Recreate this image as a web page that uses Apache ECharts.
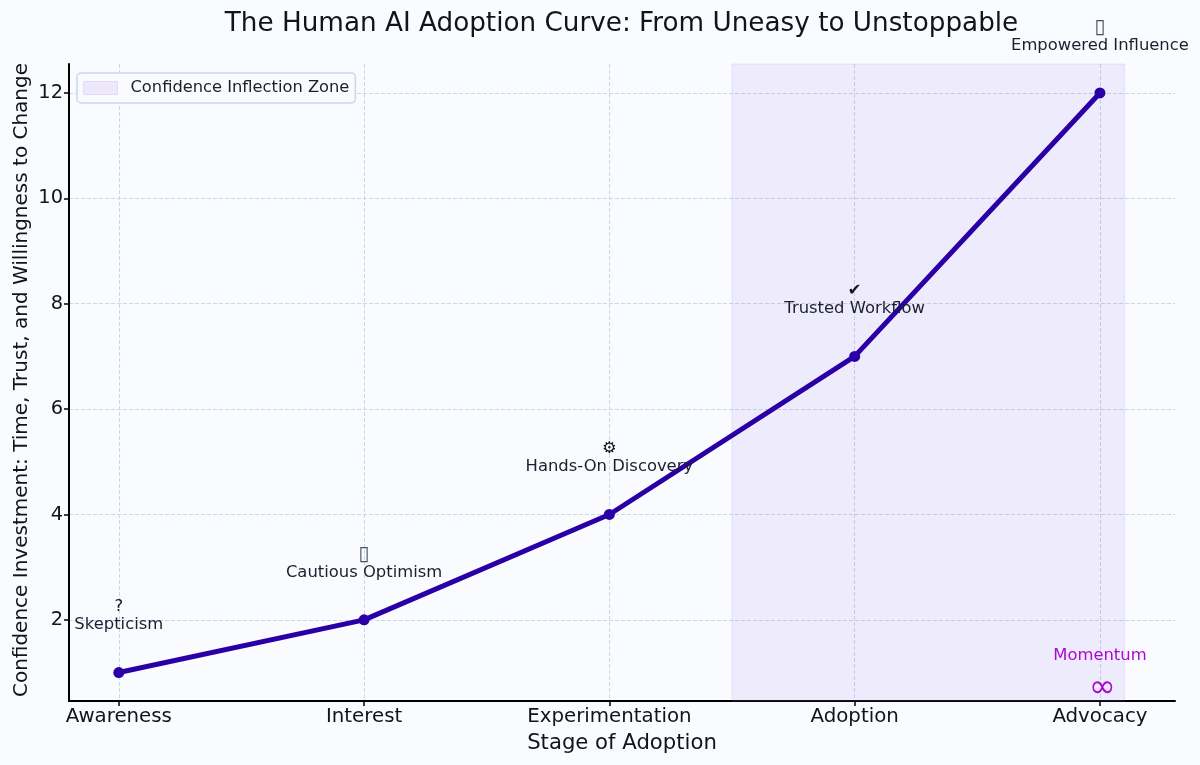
<!DOCTYPE html>
<html>
<head>
<meta charset="utf-8">
<style>
  html, body { margin: 0; padding: 0; background: #f9faff; }
  #chart { width: 1200px; height: 765px; }
</style>
<script src="https://cdn.jsdelivr.net/npm/echarts@6/dist/echarts.min.js"></script>
</head>
<body>
<div id="chart"></div>
<script>
var stages = ["Awareness", "Interest", "Experimentation", "Adoption", "Advocacy"];
var confidence = [1, 2, 4, 7, 12];
var yTicks = [2, 4, 6, 8, 10, 12];

var noteIcons = ["?", "\u25AF", "\u2699", "\u2714", "\u25AF"];
var noteTexts = ["Skepticism", "Cautious Optimism", "Hands-On Discovery", "Trusted Workflow", "Empowered Influence"];
var noteHeights = [2.07, 3.07, 5.07, 8.07, 13.07];

var zoneName = "Confidence Inflection Zone";
var zoneRange = [2.5, 4.1];

var momentumLabel = "Momentum";
var momentumSymbol = "\u221E";
var momentumPoint = [4, 1.31];
var infinityPoint = [4.01, 0.7];

var font = "DejaVu Sans";
var gridColor = "#c9d7ea";
var myChart = echarts.init(document.getElementById("chart"));

var option = {
    animation: false,
    backgroundColor: "#f9fbff",
    textStyle: { fontFamily: font },
    title: {
        text: "The Human AI Adoption Curve: From Uneasy to Unstoppable",
        left: 616.5,
        top: 6,
        textAlign: "center",
        textStyle: { fontFamily: font, fontSize: 26.25, fontWeight: "normal", color: "#10141c" }
    },
    legend: {
        data: [zoneName],
        left: 77,
        top: 73,
        padding: [7, 6, 7, 6],
        icon: "rect",
        itemWidth: 34,
        itemHeight: 13,
        itemGap: 0,
        backgroundColor: "#f9fbff",
        borderColor: "#c9d8ee",
        borderWidth: 1.5,
        borderRadius: 4,
        itemStyle: { color: "#eee8fc", borderColor: "#e3daf9", borderWidth: 1 },
        textStyle: { fontFamily: font, fontSize: 16.3, color: "#1a202c", padding: [0, 0, 0, 8] }
    },
    grid: { left: 69, right: 25, top: 64, bottom: 64, outerBoundsMode: "none" },
    xAxis: {
        type: "value",
        min: -0.203,
        max: 4.306,
        name: "Stage of Adoption",
        nameLocation: "middle",
        nameGap: 32,
        nameTextStyle: { fontFamily: font, fontSize: 21.2, color: "#10141c" },
        axisLine: { onZero: false, lineStyle: { color: "#000", width: 2 } },
        axisTick: {
            customValues: [0, 1, 2, 3, 4],
            length: 5,
            lineStyle: { color: "#000", width: 1.5 }
        },
        axisLabel: {
            customValues: [0, 1, 2, 3, 4],
            formatter: function(value) { return stages[value]; },
            fontSize: 19.8,
            color: "#10141c",
            margin: 6
        },
        splitLine: { show: true, lineStyle: { color: gridColor, type: "dashed", width: 1 } }
    },
    yAxis: {
        type: "value",
        min: 0.46,
        max: 12.55,
        name: "Confidence Investment: Time, Trust, and Willingness to Change",
        nameLocation: "middle",
        nameGap: 37,
        nameMoveOverlap: false,
        nameTextStyle: { fontFamily: font, fontSize: 20, color: "#10141c", padding: [0, 0, 0, 5] },
        axisLine: { show: true, onZero: false, lineStyle: { color: "#000", width: 2 } },
        axisTick: {
            show: true,
            customValues: yTicks,
            length: 5,
            lineStyle: { color: "#000", width: 1.5 }
        },
        axisLabel: {
            customValues: yTicks,
            fontSize: 19.4,
            color: "#10141c",
            margin: 6,
            padding: [5, 0, 0, 0]
        },
        splitLine: { show: true, lineStyle: { color: gridColor, type: "dashed", width: 1 } }
    },
    series: [
        {
            name: zoneName,
            type: "line",
            data: [],
            itemStyle: { color: "#eee8fc" },
            markArea: {
                silent: true,
                itemStyle: { color: "rgba(145,95,240,0.1)", borderColor: "rgba(140,100,240,0.14)", borderWidth: 1 },
                data: [[{ xAxis: zoneRange[0] }, { xAxis: zoneRange[1] }]]
            }
        },
        {
            name: "Confidence",
            type: "line",
            data: confidence.map(function(v, i) { return [i, v]; }),
            symbol: "circle",
            symbolSize: 11,
            z: 3,
            lineStyle: { color: "#2a00a6", width: 5 },
            itemStyle: { color: "#2a00a6" }
        },
        {
            name: "Notes",
            type: "scatter",
            clip: false,
            symbolSize: 0,
            z: 4,
            itemStyle: { opacity: 1 },
            data: noteHeights.map(function(h, i) { return [i, h]; }),
            label: {
                show: true,
                position: "inside",
                align: "center",
                verticalAlign: "middle",
                lineHeight: 18,
                fontSize: 16.4,
                color: "#1a202c",
                rich: {
                    box: { fontSize: 20, lineHeight: 18, color: "#4a5260" },
                    sign: { fontSize: 16.4, lineHeight: 18, color: "#10141c" }
                },
                formatter: function(p) {
                    var icon = noteIcons[p.dataIndex];
                    var tag = icon === "\u25AF" ? "box" : "sign";
                    return "{" + tag + "|" + icon + "}\n" + noteTexts[p.dataIndex];
                }
            }
        },
        {
            name: "Momentum",
            type: "scatter",
            clip: false,
            symbolSize: 0,
            z: 4,
            itemStyle: { opacity: 1 },
            data: [
                { value: momentumPoint, label: { formatter: momentumLabel, fontSize: 16.4 } },
                { value: infinityPoint, label: { formatter: momentumSymbol, fontSize: 32 } }
            ],
            label: { show: true, position: "inside", color: "#aa0bcc" }
        }
    ]
};

myChart.setOption(option);
</script>
</body>
</html>
